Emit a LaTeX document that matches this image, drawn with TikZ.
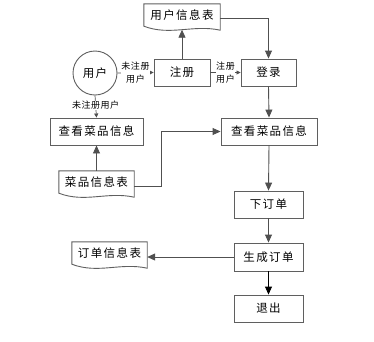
\documentclass[tikz,border=0pt]{standalone}
\usepackage{fontspec}
\setmainfont{Noto Sans CJK SC}
\newfontfamily\cjk[LetterSpace=12]{Noto Sans CJK SC}
\newfontfamily\cjksmall[LetterSpace=6]{Noto Sans CJK SC}
\usetikzlibrary{arrows.meta,calc}
\definecolor{linecol}{RGB}{80,80,80}
\definecolor{boxcol}{RGB}{95,95,95}
\tikzset{
  box/.style={draw=boxcol,line width=0.9pt,fill=white,inner sep=0pt,
    font=\cjk\fontsize{11.5}{13}\selectfont,align=center},
  docnode/.style={draw=none,inner sep=0pt,font=\cjk\fontsize{11.5}{13}\selectfont},
  docline/.style={draw=boxcol,line width=0.9pt},
  conn/.style={draw=linecol,line width=0.9pt,-{Triangle[length=8pt,width=7pt]}},
  smallconn/.style={draw=linecol,line width=0.7pt,-{Triangle[length=4pt,width=4pt]}},
  lbl/.style={font=\cjksmall\fontsize{9}{13}\selectfont,fill=white,inner sep=0.5pt,align=center}
}
\newcommand{\docwave}[2]{%
  \path[docline] (#1.south west) .. controls ($(#1.south west)+(0.35*#2,10)$) and ($(#1.south west)+(0.65*#2,-2)$) .. ($(#1.south east)+(0,4)$) -- (#1.north east) -- (#1.north west) -- cycle;}
\begin{document}
\begin{tikzpicture}[x=1pt,y=-1pt]
\useasboundingbox (0,0) rectangle (374,341);
% nodes
\node[box,circle,minimum size=44pt] (user) at (95,73) {用户};
\node[box,minimum width=56pt,minimum height=27pt] (reg) at (182,72.5) {注册};
\node[box,minimum width=55pt,minimum height=27pt] (login) at (268.5,72.5) {登录};
\node[docnode,minimum width=76pt,minimum height=22pt] (userdb) at (182,15) {用户信息表};
\node[box,minimum width=93pt,minimum height=27pt] (viewL) at (96.5,131.5) {查看菜品信息};
\node[box,minimum width=96pt,minimum height=27pt] (viewR) at (269,131.5) {查看菜品信息};
\node[docnode,minimum width=75pt,minimum height=22pt] (dishdb) at (96.5,182) {菜品信息表};
\node[box,minimum width=69pt,minimum height=27pt] (order) at (268.5,204.5) {下订单};
\node[box,minimum width=69pt,minimum height=28pt] (gen) at (268.5,257) {生成订单};
\node[box,minimum width=69pt,minimum height=27pt] (exit) at (268.5,308.5) {退出};
\node[docnode,minimum width=75pt,minimum height=22pt] (orderdb) at (109.5,253) {订单信息表};
% document outlines
\docwave{userdb}{76}
\docwave{dishdb}{75}
\docwave{orderdb}{75}
\coordinate (userdbB) at ($(userdb.south)+(0,3.5)$);
% connectors
\draw[conn] ([yshift=-3pt]userdb.east) -| (login.north);
\draw[conn] (reg.north) -- (userdbB);
\draw[smallconn] (user.east) -- node[lbl] {未注册\\用户} (reg.west);
\draw[smallconn] (reg.east) -- node[lbl] {注册\\用户} (login.west);
\draw[smallconn] (user.south) -- node[lbl,pos=0.45] {未注册用户} (viewL.north);
\draw[conn] (login.south) -- (viewR.north);
\draw[conn] (dishdb.north) -- (viewL.south);
\draw[conn] ([yshift=-4pt]dishdb.east) -- ++(27,0) |- (viewR.west);
\draw[conn] (viewR.south) -- (order.north);
\draw[conn] (order.south) -- (gen.north);
\draw[conn] (gen.west) -- (gen.west -| orderdb.east);
\draw[conn,draw=black] (gen.south) -- (exit.north);
\end{tikzpicture}
\end{document}
